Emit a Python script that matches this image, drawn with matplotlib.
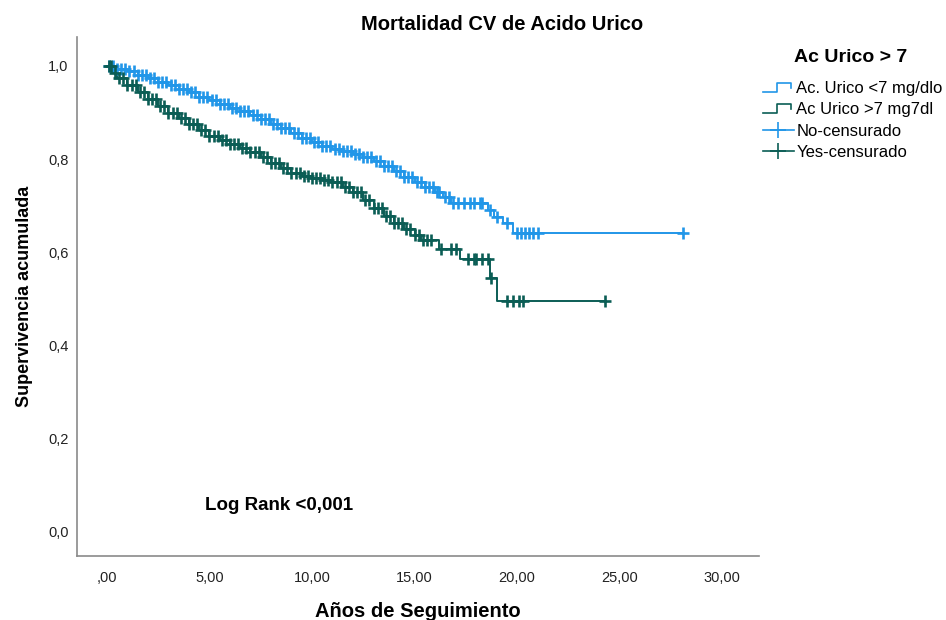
import numpy as np
import matplotlib
matplotlib.use("Agg")
import matplotlib.pyplot as plt
from matplotlib.lines import Line2D
from matplotlib.legend_handler import HandlerBase

plt.rcParams['font.family'] = ['Liberation Sans', 'DejaVu Sans']

# Kaplan-Meier steps, grupo acido urico < 7
t_low = [0, .5, 1, 1.5, 2, 2.5, 3, 3.5, 4, 4.5, 5, 5.5, 6, 6.5, 7, 7.5, 8, 8.5, 9, 9.5,
         10, 10.5, 11, 11.5, 12, 12.5, 13, 13.5, 14, 14.5, 15, 15.5, 16, 16.4, 16.8,
         18.6, 18.9, 19.3, 19.8, 28.1]
s_low = [1.000, .994, .988, .981, .973, .966, .958, .951, .943, .934, .926, .918, .910, .903,
         .895, .886, .876, .866, .856, .846, .836, .829, .822, .817, .812, .805, .796, .786,
         .774, .762, .750, .740, .730, .718, .706, .690, .676, .662, .642, .642]
c_low = [0.1, 0.3, 0.5, 0.7, 0.9, 1.1, 1.3, 1.5, 1.7, 1.9, 2.1, 2.3, 2.5, 2.7, 2.9, 3.1, 3.3,
         3.5, 3.7, 3.9, 4.1, 4.3, 4.5, 4.7, 4.9, 5.1, 5.3, 5.5, 5.7, 5.9, 6.1, 6.3, 6.5, 6.7,
         6.9, 7.1, 7.3, 7.5, 7.7, 7.9, 8.1, 8.3, 8.5, 8.7, 8.9, 9.1, 9.3, 9.5, 9.7, 9.9, 10.1,
         10.3, 10.5, 10.7, 10.9, 11.1, 11.3, 11.5, 11.7, 11.9, 12.1, 12.3, 12.5, 12.7, 12.9,
         13.1, 13.3, 13.5, 13.7, 13.9, 14.1, 14.3, 14.5, 14.7, 14.9, 15.1, 15.3, 15.5, 15.7,
         15.9, 16.1, 16.2, 16.5, 16.7, 16.9, 17.1, 17.4, 17.7, 17.9, 18.2, 18.3, 18.7, 19.0,
         19.5, 20.0, 20.2, 20.4, 20.6, 20.8, 21.0, 28.1]

# grupo acido urico > 7
t_high = [0, .25, .5, 1, 1.5, 2, 2.5, 3, 3.5, 4, 4.5, 5, 5.5, 6, 6.5, 7, 7.5, 8, 8.5, 9, 9.5,
          10, 10.5, 11, 11.5, 12, 12.5, 13, 13.5, 14, 14.5, 15, 15.3, 16.2, 17.2, 18.7, 19.0,
          24.3]
s_high = [1.000, .985, .975, .958, .944, .930, .914, .900, .888, .876, .863, .850, .841, .832,
          .824, .815, .804, .792, .780, .770, .764, .760, .756, .750, .740, .730, .712, .695,
          .679, .663, .650, .637, .627, .607, .586, .545, .496, .496]
c_high = [0.1, 0.2, 0.4, 0.6, 0.8, 1.0, 1.2, 1.4, 1.6, 1.8, 2.0, 2.2, 2.4, 2.6, 2.8, 3.0, 3.2,
          3.4, 3.6, 3.8, 4.0, 4.2, 4.4, 4.6, 4.8, 5.0, 5.2, 5.4, 5.6, 5.8, 6.0, 6.2, 6.4, 6.6,
          6.8, 7.0, 7.2, 7.4, 7.6, 7.8, 8.0, 8.2, 8.4, 8.6, 8.8, 9.0, 9.2, 9.4, 9.6, 9.8, 10.0,
          10.2, 10.4, 10.6, 10.8, 11.0, 11.2, 11.4, 11.6, 11.8, 12.0, 12.2, 12.4, 12.6, 12.8,
          13.0, 13.2, 13.4, 13.6, 13.8, 14.0, 14.2, 14.4, 14.6, 14.8, 15.0, 15.2, 15.4, 15.6,
          15.8, 16.3, 16.8, 17.0, 17.6, 17.9, 18.0, 18.3, 18.6, 18.75, 19.5, 19.8, 20.1, 20.3,
          24.3]

x_ticks = [0, 5, 10, 15, 20, 25, 30]
x_labels = [',00', '5,00', '10,00', '15,00', '20,00', '25,00', '30,00']
y_ticks = [0, .2, .4, .6, .8, 1.0]
y_labels = ['0,0', '0,2', '0,4', '0,6', '0,8', '1,0']

col_low = '#2196e8'
col_high = '#0b5d55'


def at(t, s, c):
    idx = np.searchsorted(t, c, side='right') - 1
    return np.asarray(s)[idx]


class StepHandle(HandlerBase):
    def create_artists(self, legend, orig, x0, y0, w, h, fs, trans):
        xs = [x0, x0 + .45 * w, x0 + .45 * w, x0 + .92 * w, x0 + .92 * w]
        ys = [y0 + .1 * h, y0 + .1 * h, y0 + .9 * h, y0 + .9 * h, y0 + .45 * h]
        ln = Line2D(xs, ys, color=orig.get_color(), lw=1.2, transform=trans)
        return [ln]


fig = plt.figure(figsize=(9.46, 6.2), dpi=100)
ax = fig.add_axes([77 / 946, 1 - 556 / 620, (759 - 77) / 946, (556 - 37) / 620])

ax.step(t_low, s_low, where='post', color=col_low, lw=1.4)
ax.step(t_high, s_high, where='post', color=col_high, lw=1.4)
ax.plot(c_low, at(t_low, s_low, c_low), '+', color=col_low, ms=8, mew=1.9)
ax.plot(c_high, at(t_high, s_high, c_high), '+', color=col_high, ms=8, mew=1.9)

ax.set_xlim(-1.46, 31.8)
ax.set_ylim(-0.0515, 1.062)
ax.set_xticks(x_ticks, x_labels)
ax.set_yticks(y_ticks, y_labels)
ax.tick_params(length=0, labelsize=10.5, colors='#222222')
ax.tick_params(axis='x', pad=11)
ax.tick_params(axis='y', pad=6)
for side in ['top', 'right']:
    ax.spines[side].set_visible(False)
for side in ['left', 'bottom']:
    ax.spines[side].set_color('#8a8a8a')
    ax.spines[side].set_linewidth(1.2)

ax.set_xlabel('Años de Seguimiento', fontsize=14.5, fontweight='bold', labelpad=12)
ax.set_ylabel('Supervivencia acumulada', fontsize=13, fontweight='bold', labelpad=11)
fig.text(502 / 946, 1 - 24 / 620, 'Mortalidad CV de Acido Urico', ha='center', va='center',
         fontsize=14.5, fontweight='bold')
ax.text(4.8, 0.056, 'Log Rank <0,001', fontsize=13.5, fontweight='bold', va='center')

# legend: title drawn on its own so it sits over the labels
fig.text(851 / 946, 1 - 58 / 620, 'Ac Urico > 7', ha='center', va='center',
         fontsize=14, fontweight='bold')
h1 = Line2D([], [], color=col_low)
h2 = Line2D([], [], color=col_high)
h3 = Line2D([], [], color=col_low, marker='+', ms=12, mew=1.2, lw=1.2)
h4 = Line2D([], [], color=col_high, marker='+', ms=12, mew=1.2, lw=1.2)
leg = fig.legend([h1, h2, h3, h4],
                 ['Ac. Urico <7 mg/dlo', 'Ac Urico >7 mg7dl', 'No-censurado', 'Yes-censurado'],
                 handler_map={h1: StepHandle(), h2: StepHandle()},
                 loc='upper left', bbox_to_anchor=(763 / 946, 1 - 81 / 620), frameon=False,
                 fontsize=12, handlelength=1.85, handletextpad=0.15,
                 labelspacing=0.38, borderaxespad=0, borderpad=0)

fig.savefig('out.png', dpi=100)
